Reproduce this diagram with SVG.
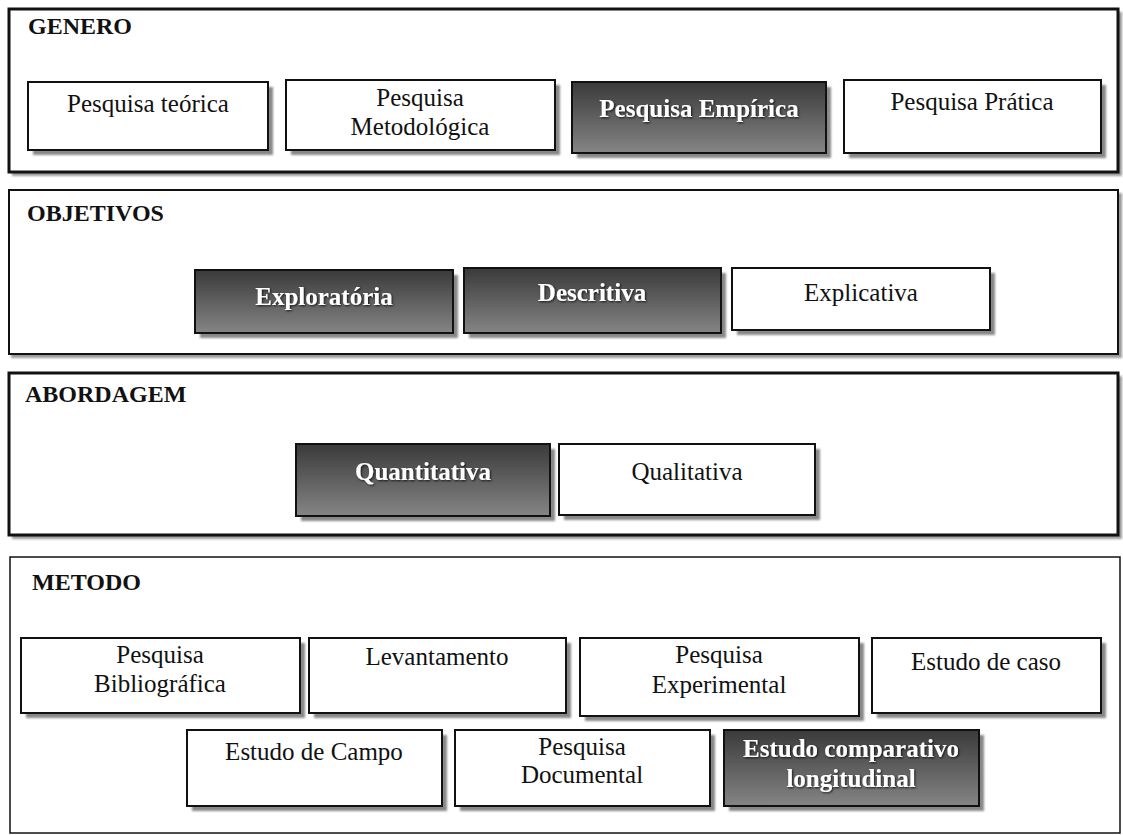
<svg xmlns="http://www.w3.org/2000/svg" width="1123" height="835" viewBox="0 0 1123 835">
<defs>
<linearGradient id="dk" x1="0" y1="0" x2="0" y2="1">
<stop offset="0" stop-color="#3a3a3a"/>
<stop offset="1" stop-color="#858585"/>
</linearGradient>
<filter id="ts" x="-10%" y="-30%" width="120%" height="160%">
<feDropShadow dx="1" dy="1" stdDeviation="0.8" flood-color="#000" flood-opacity="0.8"/>
</filter>
<filter id="blur" x="-5%" y="-5%" width="110%" height="110%">
<feGaussianBlur stdDeviation="1"/>
</filter>
</defs>
<style>
.osh{fill:#9a9a9a;filter:url(#blur)}
.outer{fill:#fff;stroke:#111}
.thick{stroke-width:3}
.thin{stroke-width:2}
.sh{fill:#888;filter:url(#blur)}
.box{fill:#fff;stroke:#111;stroke-width:2}
.dbox{fill:url(#dk);stroke:#111;stroke-width:2}
.hd{font-family:"Liberation Serif",serif;font-weight:bold;font-size:24px;fill:#111}
.t{font-family:"Liberation Serif",serif;font-size:25px;fill:#111;text-anchor:middle}
.tw{font-family:"Liberation Serif",serif;font-weight:bold;font-size:25px;fill:#fff;text-anchor:middle;filter:url(#ts)}
</style>
<rect width="1123" height="835" fill="#fff"/>

<!-- GENERO -->
<g id="genero">
<rect class="osh" x="12" y="12" width="1110" height="164"/>
<rect class="outer thick" x="9" y="9" width="1109" height="163"/>
<text class="hd" x="28" y="34">GENERO</text>
</g>
<g id="g-teorica">
<rect class="sh" x="33" y="87" width="240" height="68"/>
<rect class="box" x="28" y="82" width="240" height="68"/>
<text class="t" x="148" y="112">Pesquisa teórica</text>
</g>
<g id="g-metodologica">
<rect class="sh" x="291" y="85" width="269" height="70"/>
<rect class="box" x="286" y="80" width="269" height="70"/>
<text class="t" x="420" y="106">Pesquisa</text>
<text class="t" x="420" y="135">Metodológica</text>
</g>
<g id="g-empirica">
<rect class="sh" x="577" y="87" width="254" height="71"/>
<rect class="dbox" x="572" y="82" width="254" height="71"/>
<text class="tw" x="699" y="117">Pesquisa Empírica</text>
</g>
<g id="g-pratica">
<rect class="sh" x="849" y="85" width="257" height="73"/>
<rect class="box" x="844" y="80" width="257" height="73"/>
<text class="t" x="972" y="110">Pesquisa Prática</text>
</g>

<!-- OBJETIVOS -->
<g id="objetivos">
<rect class="osh" x="11" y="193" width="1111" height="165"/>
<rect class="outer thin" x="9" y="190" width="1109" height="164"/>
<text class="hd" x="27" y="221">OBJETIVOS</text>
</g>
<g id="o-exploratoria">
<rect class="sh" x="200" y="275" width="258" height="63"/>
<rect class="dbox" x="195" y="270" width="258" height="63"/>
<text class="tw" x="324" y="305">Exploratória</text>
</g>
<g id="o-descritiva">
<rect class="sh" x="469" y="273" width="257" height="65"/>
<rect class="dbox" x="464" y="268" width="257" height="65"/>
<text class="tw" x="592" y="301">Descritiva</text>
</g>
<g id="o-explicativa">
<rect class="sh" x="737" y="273" width="258" height="62"/>
<rect class="box" x="732" y="268" width="258" height="62"/>
<text class="t" x="861" y="301">Explicativa</text>
</g>

<!-- ABORDAGEM -->
<g id="abordagem">
<rect class="osh" x="12" y="376" width="1110" height="163"/>
<rect class="outer thick" x="9" y="373" width="1109" height="162"/>
<text class="hd" x="25" y="402">ABORDAGEM</text>
</g>
<g id="a-quantitativa">
<rect class="sh" x="301" y="449" width="254" height="72"/>
<rect class="dbox" x="296" y="444" width="254" height="72"/>
<text class="tw" x="423" y="480">Quantitativa</text>
</g>
<g id="a-qualitativa">
<rect class="sh" x="564" y="449" width="256" height="71"/>
<rect class="box" x="559" y="444" width="256" height="71"/>
<text class="t" x="687" y="480">Qualitativa</text>
</g>

<!-- METODO -->
<g id="metodo">
<rect class="outer thin" x="10" y="557" width="1110" height="276" style="stroke-width:1.5"/>
<text class="hd" x="32" y="590">METODO</text>
</g>
<g id="m-bibliografica">
<rect class="sh" x="26" y="643" width="279" height="75"/>
<rect class="box" x="21" y="638" width="279" height="75"/>
<text class="t" x="160" y="663">Pesquisa</text>
<text class="t" x="160" y="692">Bibliográfica</text>
</g>
<g id="m-levantamento">
<rect class="sh" x="314" y="643" width="257" height="75"/>
<rect class="box" x="309" y="638" width="257" height="75"/>
<text class="t" x="437" y="665">Levantamento</text>
</g>
<g id="m-experimental">
<rect class="sh" x="585" y="643" width="279" height="78"/>
<rect class="box" x="580" y="638" width="279" height="78"/>
<text class="t" x="719" y="663">Pesquisa</text>
<text class="t" x="719" y="693">Experimental</text>
</g>
<g id="m-caso">
<rect class="sh" x="877" y="643" width="229" height="75"/>
<rect class="box" x="872" y="638" width="229" height="75"/>
<text class="t" x="986" y="670">Estudo de caso</text>
</g>
<g id="m-campo">
<rect class="sh" x="192" y="735" width="255" height="76"/>
<rect class="box" x="187" y="730" width="255" height="76"/>
<text class="t" x="314" y="760">Estudo de Campo</text>
</g>
<g id="m-documental">
<rect class="sh" x="460" y="735" width="255" height="76"/>
<rect class="box" x="455" y="730" width="255" height="76"/>
<text class="t" x="582" y="755">Pesquisa</text>
<text class="t" x="582" y="783">Documental</text>
</g>
<g id="m-comparativo">
<rect class="sh" x="729" y="735" width="255" height="76"/>
<rect class="dbox" x="724" y="730" width="255" height="76"/>
<text class="tw" x="851" y="757">Estudo comparativo</text>
<text class="tw" x="851" y="787">longitudinal</text>
</g>

<g id="connectors"></g>
</svg>
